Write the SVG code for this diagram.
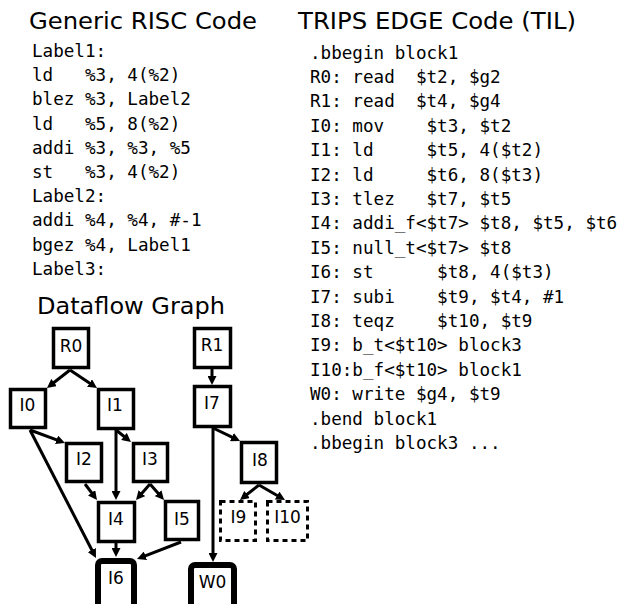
<svg xmlns="http://www.w3.org/2000/svg" width="619" height="604" viewBox="0 0 619 604">
<style>
.title{font-family:"DejaVu Sans","Liberation Sans",sans-serif;font-size:23px;fill:#000}
.code{font-family:"DejaVu Sans Mono","Liberation Mono",monospace;font-size:17.6px;fill:#000;white-space:pre}
.lbl{font-family:"DejaVu Sans","Liberation Sans",sans-serif;font-size:17px;fill:#000;text-anchor:middle}
.box{fill:#fff;stroke:#000;stroke-width:3.5}
.dash{fill:#fff;stroke:#000;stroke-width:3;stroke-dasharray:5 4}
.thick{fill:#fff;stroke:#000;stroke-width:6}
.edge{stroke:#000;stroke-width:3;fill:none;marker-end:url(#ah)}
</style>
<defs>
<marker id="ah" markerUnits="userSpaceOnUse" viewBox="0 0 9 9" markerWidth="9" markerHeight="9" refX="3" refY="4.5" orient="auto">
<path d="M0,0 L9,4.5 L0,9 z" fill="#000"/>
</marker>
</defs>
<rect width="619" height="604" fill="#fff"/>
<text class="title" x="29" y="28.5" textLength="228" lengthAdjust="spacingAndGlyphs">Generic RISC Code</text>
<text class="title" x="298" y="28.5" textLength="278" lengthAdjust="spacingAndGlyphs">TRIPS EDGE Code (TIL)</text>
<text class="title" x="37" y="314" textLength="188" lengthAdjust="spacingAndGlyphs">Dataflow Graph</text>
<g id="risc-code" xml:space="preserve">
<text class="code" x="32" y="57">Label1:</text>
<text class="code" x="32" y="81.2">ld   %3, 4(%2)</text>
<text class="code" x="32" y="105.4">blez %3, Label2</text>
<text class="code" x="32" y="129.6">ld   %5, 8(%2)</text>
<text class="code" x="32" y="153.8">addi %3, %3, %5</text>
<text class="code" x="32" y="178">st   %3, 4(%2)</text>
<text class="code" x="32" y="202.2">Label2:</text>
<text class="code" x="32" y="226.4">addi %4, %4, #-1</text>
<text class="code" x="32" y="250.6">bgez %4, Label1</text>
<text class="code" x="32" y="274.8">Label3:</text>
</g>
<g id="til-code" xml:space="preserve">
<text class="code" x="310" y="58.5">.bbegin block1</text>
<text class="code" x="310" y="82.9">R0: read  $t2, $g2</text>
<text class="code" x="310" y="107.3">R1: read  $t4, $g4</text>
<text class="code" x="310" y="131.7">I0: mov    $t3, $t2</text>
<text class="code" x="310" y="156.1">I1: ld     $t5, 4($t2)</text>
<text class="code" x="310" y="180.5">I2: ld     $t6, 8($t3)</text>
<text class="code" x="310" y="204.9">I3: tlez   $t7, $t5</text>
<text class="code" x="310" y="229.3">I4: addi_f&lt;$t7&gt; $t8, $t5, $t6</text>
<text class="code" x="310" y="253.7">I5: null_t&lt;$t7&gt; $t8</text>
<text class="code" x="310" y="278.1">I6: st      $t8, 4($t3)</text>
<text class="code" x="310" y="302.5">I7: subi    $t9, $t4, #1</text>
<text class="code" x="310" y="326.9">I8: teqz    $t10, $t9</text>
<text class="code" x="310" y="351.3">I9: b_t&lt;$t10&gt; block3</text>
<text class="code" x="310" y="375.7">I10:b_f&lt;$t10&gt; block1</text>
<text class="code" x="310" y="400.1">W0: write $g4, $t9</text>
<text class="code" x="310" y="424.5">.bend block1</text>
<text class="code" x="310" y="448.9">.bbegin block3 ...</text>
</g>
<g id="connectors">
<line class="edge" x1="70" y1="370" x2="51.7" y2="384.3"/>
<line class="edge" x1="70" y1="370" x2="92" y2="384.7"/>
<line class="edge" x1="212" y1="369" x2="212" y2="379"/>
<line class="edge" x1="30" y1="430" x2="59.4" y2="440.9"/>
<line class="edge" x1="30" y1="430" x2="93.25" y2="552.7"/>
<line class="edge" x1="116" y1="430" x2="126.3" y2="438.25"/>
<line class="edge" x1="116" y1="430" x2="116" y2="494"/>
<line class="edge" x1="85" y1="484" x2="93.4" y2="495.2"/>
<line class="edge" x1="150" y1="484" x2="139.95" y2="495.5"/>
<line class="edge" x1="150" y1="484" x2="160.05" y2="495.5"/>
<line class="edge" x1="116" y1="543" x2="116" y2="551"/>
<line class="edge" x1="181" y1="542" x2="142.6" y2="556.8"/>
<line class="edge" x1="213" y1="428" x2="234.6" y2="438.4"/>
<line class="edge" x1="213" y1="428" x2="213" y2="556"/>
<line class="edge" x1="259" y1="485" x2="244.7" y2="496.3"/>
<line class="edge" x1="259" y1="485" x2="279.8" y2="497"/>
</g>
<g id="R0"><rect class="box" x="53.5" y="328.5" width="35" height="39"/><text class="lbl" x="71" y="352">R0</text></g>
<g id="R1"><rect class="box" x="194.5" y="328.5" width="36" height="39"/><text class="lbl" x="212" y="351">R1</text></g>
<g id="I0"><rect class="box" x="10.5" y="389.5" width="35" height="38"/><text class="lbl" x="27.5" y="411">I0</text></g>
<g id="I1"><rect class="box" x="98.5" y="389.5" width="35" height="39"/><text class="lbl" x="115" y="411">I1</text></g>
<g id="I7"><rect class="box" x="194.5" y="386.5" width="36" height="40"/><text class="lbl" x="212" y="409">I7</text></g>
<g id="I2"><rect class="box" x="66.5" y="443.5" width="35" height="38"/><text class="lbl" x="84" y="465">I2</text></g>
<g id="I3"><rect class="box" x="133.5" y="443.5" width="34" height="38"/><text class="lbl" x="150" y="465">I3</text></g>
<g id="I8"><rect class="box" x="241.5" y="442.5" width="35" height="40"/><text class="lbl" x="260" y="466">I8</text></g>
<g id="I4"><rect class="box" x="98.5" y="502.5" width="36" height="39"/><text class="lbl" x="116" y="525">I4</text></g>
<g id="I5"><rect class="box" x="165.5" y="501.5" width="33" height="38"/><text class="lbl" x="182" y="525">I5</text></g>
<g id="I9"><rect class="dash" x="220.5" y="501.5" width="35" height="39"/><text class="lbl" x="238.5" y="523">I9</text></g>
<g id="I10"><rect class="dash" x="267.5" y="501.5" width="40" height="39"/><text class="lbl" x="287.5" y="523">I10</text></g>
<g id="I6"><rect class="thick" x="98" y="561" width="36" height="52" rx="4"/><text class="lbl" x="116" y="584">I6</text></g>
<g id="W0"><rect class="thick" x="191" y="565" width="43" height="52" rx="4"/><text class="lbl" x="212.5" y="588">W0</text></g>
</svg>
